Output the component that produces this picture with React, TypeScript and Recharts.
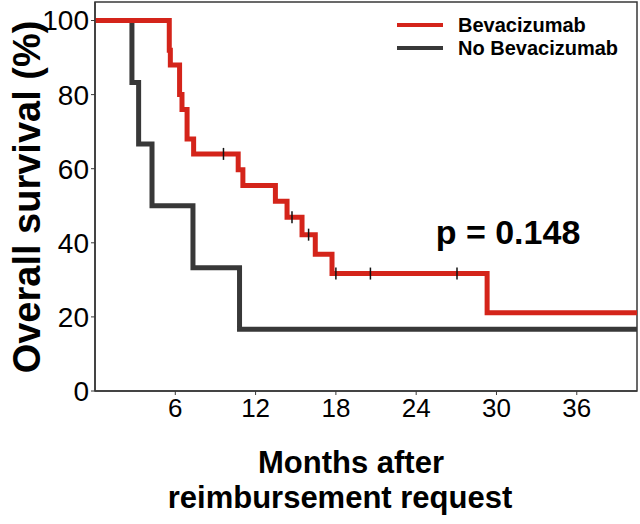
import {
  ComposedChart,
  Line,
  Scatter,
  XAxis,
  YAxis,
  ReferenceArea,
  Legend,
  Label,
  Customized,
} from "recharts";

// Kaplan-Meier steps (months, % surviving)
const bevTimes = [5.55, 5.63, 6.32, 6.5, 6.88, 7.37, 10.7, 11.05, 13.48, 14.35, 15.47, 16.46, 17.71, 29.3];
const bevSurv = [92, 88, 80, 76, 68, 64, 59.7, 55.5, 51.2, 46.9, 42.2, 36.9, 31.7, 21.1];
const bevCensorTimes = [9.6, 14.72, 15.96, 18.0, 20.58, 27.05];
const bevCensorSurv = [64, 46.9, 42.2, 31.7, 31.7, 31.7];

const noBevTimes = [2.76, 3.26, 4.26, 7.32, 10.8];
const noBevSurv = [83.3, 66.7, 50, 33.3, 16.7];

const xTicks = [6, 12, 18, 24, 30, 36];
const yTicks = [0, 20, 40, 60, 80, 100];

const X_MAX = 40.5;
const Y_MAX = 105;

const RED = "#d4241a";
const DARK = "#383838";
const FONT = "'Liberation Sans', Arial, sans-serif";

function steps(times: number[], surv: number[]) {
  const pts = [{ t: 0, s: 100 }];
  times.forEach((t, i) => pts.push({ t, s: surv[i] }));
  pts.push({ t: X_MAX, s: surv[surv.length - 1] });
  return pts;
}

const bevData = steps(bevTimes, bevSurv);
const noBevData = steps(noBevTimes, noBevSurv);
const censorData = bevCensorTimes.map((t, i) => ({ t, s: bevCensorSurv[i] }));

function CensorMark(props: any) {
  const { cx, cy } = props;
  return <line x1={cx} x2={cx} y1={cy - 6} y2={cy + 6} stroke="#111" strokeWidth={1.5} />;
}

function LegendBox(props: any) {
  const items = (props.payload || []).filter((p: any) => p.type !== "none");
  return (
    <svg width={240} height={60} style={{ display: "block" }}>
      {items.map((p: any, i: number) => (
        <g key={p.value}>
          <line x1={2} x2={48} y1={10 + i * 23} y2={10 + i * 23} stroke={p.color} strokeWidth={4} />
          <text x={63} y={17 + i * 23} fontSize={20} fontWeight="bold" fontFamily={FONT} fill="#000">
            {p.value}
          </text>
        </g>
      ))}
    </svg>
  );
}

function Annotations() {
  return (
    <g fontFamily={FONT} fontWeight="bold" fill="#000">
      <text x={508} y={244} fontSize={34} textAnchor="middle">p = 0.148</text>
      <text x={351} y={473} fontSize={31} textAnchor="middle">Months after</text>
      <text x={340} y={508} fontSize={31} textAnchor="middle">reimbursement request</text>
    </g>
  );
}

export default function App() {
  return (
    <div style={{ position: "absolute", left: 0, top: 0, background: "#fff" }}>
      <ComposedChart width={640} height={524} margin={{ top: 2, right: 3, bottom: 0, left: 0 }}>
        <XAxis
          type="number"
          dataKey="t"
          domain={[0, X_MAX]}
          ticks={xTicks}
          allowDataOverflow
          height={133}
          tick={{ fontSize: 26, fill: "#000", fontFamily: FONT }}
          tickSize={4}
          tickMargin={4}
          tickLine={{ stroke: DARK }}
          axisLine={{ stroke: DARK, strokeWidth: 1.5 }}
        />
        <YAxis
          type="number"
          dataKey="s"
          domain={[0, Y_MAX]}
          ticks={yTicks}
          allowDataOverflow
          width={95}
          tick={{ fontSize: 28, fill: "#000", fontFamily: FONT }}
          tickSize={4}
          tickMargin={2}
          tickLine={{ stroke: DARK }}
          axisLine={{ stroke: DARK, strokeWidth: 1.5 }}
        >
          <Label
            content={() => (
              <text
                x={27}
                y={197}
                transform="rotate(-90 27 197)"
                textAnchor="middle"
                dominantBaseline="central"
                fontSize={38}
                fontWeight="bold"
                fontFamily={FONT}
                fill="#000"
              >
                Overall survival (%)
              </text>
            )}
          />
        </YAxis>
        <ReferenceArea x1={0} x2={X_MAX} y1={0} y2={Y_MAX} fill="none" stroke={DARK} strokeWidth={1.5} />
        <Line
          data={noBevData}
          dataKey="s"
          name="No Bevacizumab"
          type="stepAfter"
          stroke={DARK}
          strokeWidth={5}
          dot={false}
          activeDot={false}
          isAnimationActive={false}
        />
        <Line
          data={bevData}
          dataKey="s"
          name="Bevacizumab"
          type="stepAfter"
          stroke={RED}
          strokeWidth={5}
          dot={false}
          activeDot={false}
          isAnimationActive={false}
        />
        <Scatter
          data={censorData}
          dataKey="s"
          legendType="none"
          shape={CensorMark}
          isAnimationActive={false}
        />
        <Legend
          layout="horizontal"
          verticalAlign="middle"
          align="center"
          content={LegendBox}
          itemSorter={(item: any) => (item.value === "Bevacizumab" ? 0 : 1)}
          wrapperStyle={{ position: "absolute", left: 395, top: 15, width: 240, height: 60 }}
        />
        <Customized component={Annotations} />
      </ComposedChart>
    </div>
  );
}
